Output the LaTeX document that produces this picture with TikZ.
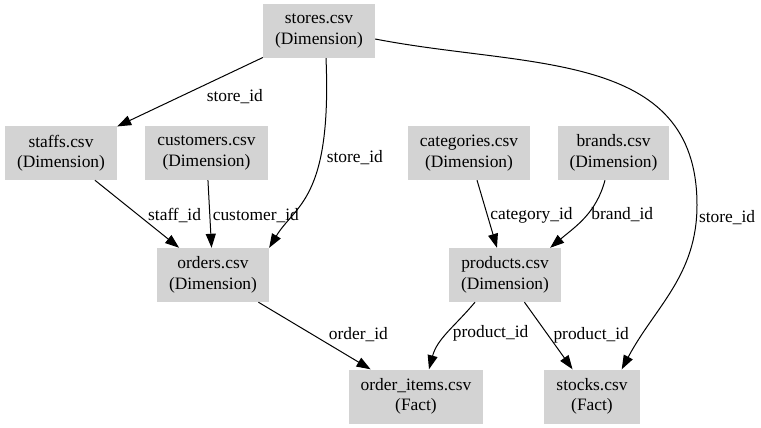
\documentclass[tikz,border=0pt]{standalone}
\usepackage{fontspec}
\setmainfont{Liberation Serif}
\usetikzlibrary{arrows.meta,positioning}
\definecolor{boxgray}{RGB}{211,211,211}
\begin{document}
\begin{tikzpicture}[x=1pt,y=1pt,
  csv/.style={fill=boxgray,align=center,minimum height=54pt,inner xsep=12pt,font=\fontsize{17.4}{20.5}\selectfont},
  rel/.style={-{Triangle[length=14pt,width=10pt]},line width=1pt},
  lab/.style={font=\fontsize{17.4}{20.5}\selectfont,inner sep=1pt}]
\useasboundingbox (0,0) rectangle (761,-428);
% tables
\node[csv](stores) at (319,-31){stores.csv\\(Dimension)};
\node[csv](staffs) at (61,-153){staffs.csv\\(Dimension)};
\node[csv](customers) at (206.5,-153){customers.csv\\(Dimension)};
\node[csv](categories) at (469,-153){categories.csv\\(Dimension)};
\node[csv](brands) at (613.5,-153){brands.csv\\(Dimension)};
\node[csv](orders) at (213,-275){orders.csv\\(Dimension)};
\node[csv](products) at (505,-275){products.csv\\(Dimension)};
\node[csv](orderitems) at (416,-396.5){order\_items.csv\\(Fact)};
\node[csv](stocks) at (592,-396.5){stocks.csv\\(Fact)};
\coordinate(turn) at (697,-205);
% keys
\draw[rel](stores)--(staffs)node[lab,pos=0.56,right=24pt]{store\_id};
\draw[rel]([xshift=7pt]stores.south) .. controls (332,-200) and (295,-205) .. (orders.north east)node[lab,pos=0.32,right=5pt]{store\_id};
\draw[rel]([yshift=-8pt]stores.east) to[out=-11,in=90,looseness=1.1] (turn) to[out=-90,in=62] node[lab,pos=0.06,right=1pt]{store\_id} ([xshift=-18pt]stocks.north east);
\draw[rel](staffs)--(orders)node[lab,pos=0.52,right=8pt]{staff\_id};
\draw[rel](customers)--(orders)node[lab,pos=0.52,right=1.5pt]{customer\_id};
\draw[rel](categories)--(products)node[lab,pos=0.52,right=1.5pt]{category\_id};
\draw[rel]([xshift=-8.5pt]brands.south) to[out=-105,in=40] node[lab,pos=0.45,right=3pt]{brand\_id} ([xshift=-11pt]products.north east);
\draw[rel](orders)--(orderitems)node[lab,pos=0.49,right=14pt]{order\_id};
\draw[rel]([xshift=-30pt]products.south) to[out=-130,in=75] node[lab,pos=0.5,right=4pt]{product\_id} ([xshift=13pt]orderitems.north);
\draw[rel](products)--(stocks)node[lab,pos=0.49,right=4pt]{product\_id};
\end{tikzpicture}
\end{document}
